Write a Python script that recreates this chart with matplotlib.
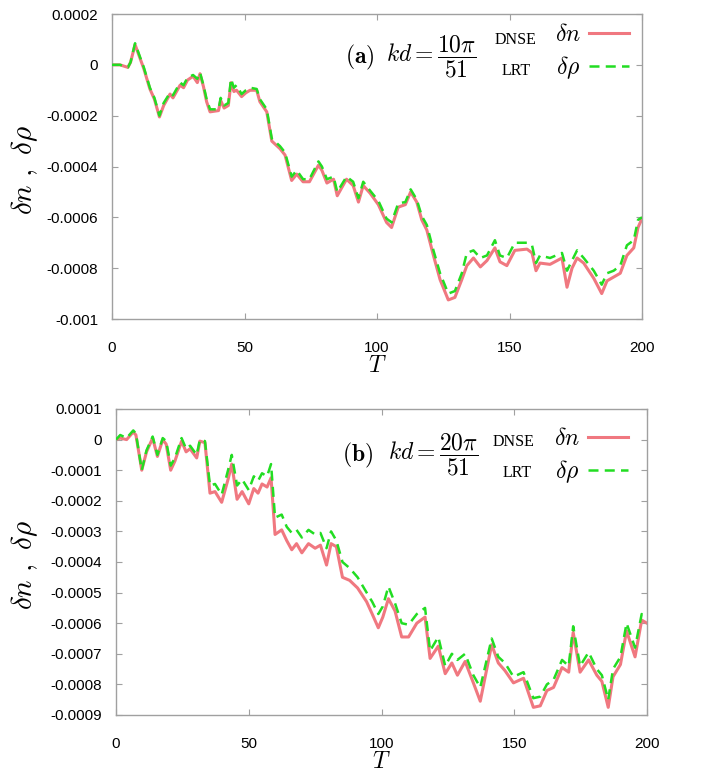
import matplotlib
matplotlib.use("Agg")
import matplotlib.pyplot as plt
from matplotlib.lines import Line2D

plt.rcParams['mathtext.fontset'] = 'cm'
plt.rcParams['font.family'] = ['Liberation Sans', 'DejaVu Sans']

# ---------------- data (values in units of 1e-4) ----------------
t_a = [0, 3, 6, 7, 8.7, 10.6, 12, 14.3, 16, 17.9, 19.5, 21.9, 23, 25.7, 27, 28.5, 30.6, 32.2,
       33.2, 34.5, 35.7, 37, 40.2, 41, 42.3, 43.9, 44.9, 46, 47, 48.9, 50.5, 52.1, 54.6, 55.8,
       58.4, 60.3, 63.4, 65.3, 67.8, 69.7, 72.1, 74.5, 77.9, 79.2, 81.1, 83.6, 85.0, 88.5, 91,
       93, 94.8, 97.4, 100.5, 103.6, 105.5, 108, 110.7, 112.7, 115, 116.9, 118.8, 121.3, 123.8,
       126.9, 129.4, 132, 133.9, 136.4, 139, 141.5, 144.5, 146.4, 149, 152, 156.6, 158.5, 160,
       161.5, 165.3, 169.8, 171.7, 173.6, 175.5, 178, 181.8, 184.8, 186.8, 189.3, 191.8, 194.3,
       196.9, 198.5, 200]
rho_a = [0, 0, -0.1, 0.1, 0.85, 0.3, -0.1, -0.9, -1.3, -2.0, -1.5, -1.1, -1.2, -0.7, -0.8, -0.5,
         -0.4, -0.55, -0.3, -0.8, -1.35, -1.75, -1.75, -1.3, -1.6, -1.5, -0.55, -0.9, -0.8, -1.15,
         -1.0, -0.9, -0.95, -1.35, -1.75, -2.9, -3.2, -3.45, -4.4, -4.15, -4.5, -4.5, -3.8, -4.0,
         -4.5, -4.4, -5.0, -4.4, -4.6, -5.25, -4.6, -4.95, -5.35, -6.05, -6.2, -5.45, -5.4, -4.9,
         -5.3, -5.95, -6.3, -7.3, -8.2, -9.0, -8.9, -8.2, -7.4, -7.3, -7.6, -7.5, -6.9, -7.5, -7.6,
         -7.0, -7.0, -7.1, -7.8, -7.5, -7.6, -7.4, -8.1, -7.7, -7.3, -7.6, -8.1, -8.65, -8.2, -8.1,
         -7.9, -7.1, -6.9, -6.1, -6.0]
n_a = [0, 0, -0.1, 0.1, 0.8, 0.25, -0.15, -0.95, -1.35, -2.05, -1.6, -1.15, -1.3, -0.8, -0.9,
       -0.6, -0.45, -0.7, -0.35, -0.85, -1.45, -1.85, -1.8, -1.4, -1.7, -1.6, -0.7, -1.05, -1.0,
       -1.25, -1.1, -1.0, -1.0, -1.45, -1.85, -3.0, -3.3, -3.55, -4.55, -4.3, -4.6, -4.6, -3.95,
       -4.15, -4.65, -4.5, -5.15, -4.5, -4.75, -5.4, -4.75, -5.05, -5.5, -6.2, -6.4, -5.6, -5.5,
       -5.0, -5.4, -6.1, -6.5, -7.5, -8.45, -9.25, -9.15, -8.45, -7.9, -7.6, -7.95, -7.7, -7.2,
       -7.75, -7.9, -7.3, -7.25, -7.4, -8.1, -7.8, -7.85, -7.6, -8.75, -8.0, -7.6, -7.8, -8.4,
       -9.0, -8.5, -8.35, -8.2, -7.5, -7.2, -6.4, -6.05]

t_b = [0, 1.6, 4, 6.5, 7.5, 9.7, 11.5, 13.8, 15.6, 17.6, 18.9, 20.6, 22.2, 24.7, 26.4, 27.9,
       30.4, 31.6, 33.5, 35.4, 37.3, 39.8, 42.2, 43.6, 45.6, 47.5, 50, 51.9, 53.5, 55, 56.9,
       58.4, 59.9, 62.4, 64.3, 66.2, 68, 70, 72.5, 75, 77, 79.3, 81, 83, 85.3, 88, 91, 94.4,
       96.5, 98.8, 100.5, 102.6, 105.1, 107.6, 110.2, 113.3, 116.4, 118.3, 121.4, 124, 126.5,
       128.6, 131.5, 134.6, 137.2, 141.5, 144, 146.5, 149.7, 153.5, 157.2, 159.8, 162.3, 164.8,
       168, 170.5, 172.2, 174.8, 178, 181.1, 183, 185.4, 187.2, 190, 192.3, 195.5, 198, 200]
rho_b = [0.0, 0.15, 0.05, 0.3, 0.2, -1.0, -0.35, 0.1, -0.5, 0.05, -0.05, -0.85, -0.6, 0.05,
         -0.3, -0.2, -0.5, 0.0, -0.05, -1.5, -1.45, -1.8, -1.0, -0.5, -1.5, -1.3, -1.65, -1.2,
         -1.35, -1.1, -1.2, -0.8, -2.55, -2.45, -2.85, -3.05, -2.95, -3.2, -2.95, -3.1, -3.05,
         -3.55, -3.0, -3.3, -4.0, -4.2, -4.5, -5.0, -5.3, -5.7, -5.45, -4.8, -5.35, -6.0, -6.05,
         -5.7, -5.5, -6.9, -6.45, -7.4, -7.0, -7.2, -7.0, -7.7, -8.1, -6.5, -7.1, -7.3, -7.75,
         -7.6, -8.45, -8.4, -8.0, -7.85, -7.2, -7.4, -6.1, -7.4, -6.95, -7.5, -7.7, -8.5, -7.5,
         -7.1, -6.0, -6.8, -5.7, -5.8]
n_b = [0.0, 0.05, 0.0, 0.25, 0.15, -1.0, -0.4, 0.05, -0.55, 0.0, -0.15, -1.0, -0.7, -0.05,
       -0.4, -0.3, -0.6, -0.05, -0.1, -1.75, -1.7, -2.05, -1.3, -0.8, -1.95, -1.7, -2.1, -1.6,
       -1.75, -1.45, -1.55, -1.25, -3.1, -2.95, -3.3, -3.6, -3.4, -3.7, -3.4, -3.55, -3.45,
       -4.1, -3.4, -3.5, -4.5, -4.6, -4.85, -5.3, -5.7, -6.15, -5.8, -5.2, -5.6, -6.45, -6.45,
       -6.0, -5.8, -7.15, -6.75, -7.65, -7.3, -7.7, -7.25, -7.95, -8.55, -6.7, -7.3, -7.55,
       -7.95, -7.8, -8.75, -8.7, -8.2, -8.1, -7.45, -7.6, -6.3, -7.6, -7.2, -7.7, -7.9, -8.75,
       -7.75, -7.35, -6.25, -7.1, -5.9, -6.0]

xticks = [0, 50, 100, 150, 200]
yticks_a = [2, 0, -2, -4, -6, -8, -10]
ylabels_a = ['0.0002', '0', '-0.0002', '-0.0004', '-0.0006', '-0.0008', '-0.001']
yticks_b = [1, 0, -1, -2, -3, -4, -5, -6, -7, -8, -9]
ylabels_b = ['0.0001', '0', '-0.0001', '-0.0002', '-0.0003', '-0.0004', '-0.0005',
             '-0.0006', '-0.0007', '-0.0008', '-0.0009']

RED = '#f07880'
GREEN = '#22dd22'
GREY = '#a0a0a0'

W, H = 704, 779
fig = plt.figure(figsize=(W / 100, H / 100), dpi=100)

def px_axes(l, t, r, b):
    return fig.add_axes([l / W, 1 - b / H, (r - l) / W, (b - t) / H])

def ftxt(x, y, s, **kw):
    fig.text(x / W, 1 - y / H, s, **kw)

ax1 = px_axes(112, 14, 642, 319)
ax2 = px_axes(116, 409, 647, 715)

panels = [
    dict(ax=ax1, t=t_a, n=n_a, rho=rho_a, yt=yticks_a, yl=ylabels_a, ylim=(-10, 2),
         tag=r'$\mathbf{(a)}$', num='10', box=(112, 14, 642, 319),
         tagx=345, kdx=386, ay=57, dnx=536, dny=40, lrx=531, lry=71, lgx=629, lgy=24, lbly=170),
    dict(ax=ax2, t=t_b, n=n_b, rho=rho_b, yt=yticks_b, yl=ylabels_b, ylim=(-9, 1),
         tag=r'$\mathbf{(b)}$', num='20', box=(116, 409, 647, 715),
         tagx=342, kdx=388, ay=455, dnx=534, dny=442, lrx=532, lry=473, lgx=628, lgy=428, lbly=565),
]

for p in panels:
    ax = p['ax']
    ax.plot(p['t'], p['n'], color=RED, lw=2.2, solid_joinstyle='round', zorder=2)
    ax.plot(p['t'], p['rho'], color=GREEN, lw=1.8, dashes=(4, 2.5), zorder=3)
    ax.set_xlim(0, 200)
    ax.set_ylim(*p['ylim'])
    ax.set_xticks(xticks)
    ax.set_xticklabels([str(v) for v in xticks])
    ax.set_yticks(p['yt'])
    ax.set_yticklabels(p['yl'])
    ax.tick_params(direction='in', length=4, width=0.8, color=GREY,
                   top=True, right=True, labelsize=11, colors='black')
    ax.tick_params(axis='x', pad=16)
    ax.tick_params(axis='y', pad=10)
    for s in ax.spines.values():
        s.set_color(GREY)
        s.set_linewidth(1.0)
    l, t, r, b = p['box']
    ax.set_xlabel(r'$T$', fontsize=17, labelpad=0)
    ax.set_ylabel(r'$\delta n\ ,\ \delta\rho$', fontsize=21)
    ax.yaxis.set_label_coords((40 - l) / (r - l), (b - p['lbly']) / (b - t))

    ftxt(p['tagx'], p['ay'], p['tag'], fontsize=17, va='center', ha='left')
    ftxt(p['kdx'], p['ay'], r'$kd=\dfrac{%s\pi}{51}$' % p['num'], fontsize=17,
         va='center', ha='left')
    ftxt(p['dnx'], p['dny'], 'DNSE', fontsize=11.5, family='Liberation Serif',
         va='center', ha='right')
    ftxt(p['lrx'], p['lry'], 'LRT', fontsize=11.5, family='Liberation Serif',
         va='center', ha='right')
    h1 = Line2D([], [], color=RED, lw=2.2)
    h2 = Line2D([], [], color=GREEN, lw=1.8, dashes=(4, 2.5))
    ax.legend([h1, h2], [r'$\delta n$', r'$\delta \rho$'], loc='upper right',
              bbox_to_anchor=((p['lgx'] - l) / (r - l), (b - p['lgy']) / (b - t)),
              frameon=False, markerfirst=False, fontsize=17, handlelength=1.7,
              handletextpad=0.35, labelspacing=0.35, borderpad=0, borderaxespad=0)

fig.savefig('out.png', dpi=100)
